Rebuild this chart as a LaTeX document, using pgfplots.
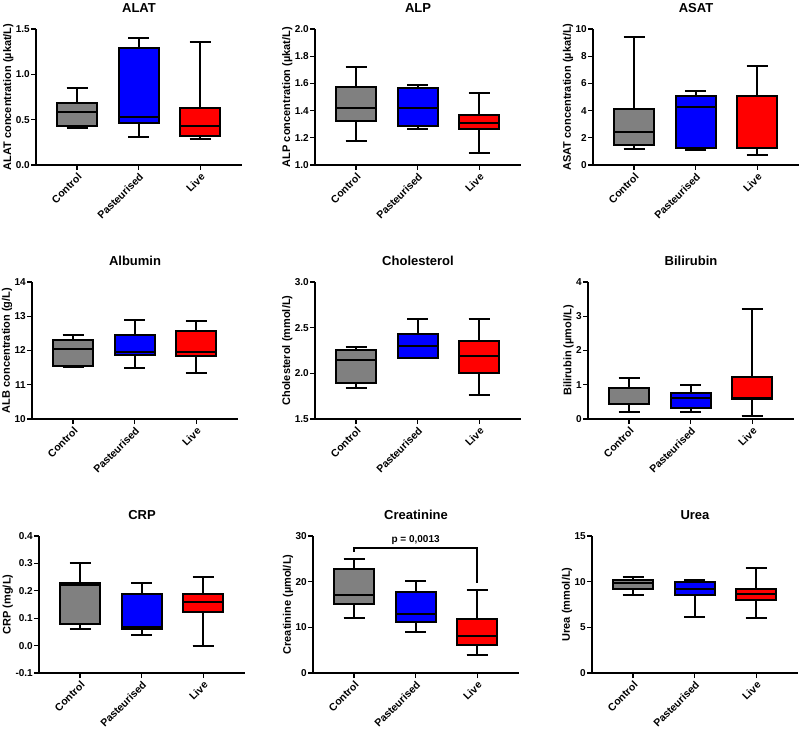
\documentclass[border=0pt]{standalone}
\usepackage{fontspec}
\setmainfont{Liberation Sans}
\usepackage{pgfplots}
\usepgfplotslibrary{statistics}
\pgfplotsset{compat=1.18}
\usepackage{pgfplotstable}

\definecolor{cgray}{RGB}{128,128,128}
\definecolor{cblue}{RGB}{0,0,255}
\definecolor{cred}{RGB}{255,0,0}

% columns: lower whisker, lower quartile, median, upper quartile, upper whisker
\pgfplotstableread{
lw lq med uq uw
0.41 0.43 0.58 0.683 0.853
0.314 0.462 0.528 1.286 1.397
0.288 0.318 0.432 0.632 1.356
}\alat
\pgfplotstableread{
lw lq med uq uw
1.178 1.322 1.42 1.573 1.72
1.268 1.29 1.42 1.566 1.59
1.088 1.266 1.31 1.366 1.529
}\alp
\pgfplotstableread{
lw lq med uq uw
1.2 1.44 2.41 4.15 9.41
1.1 1.27 4.24 5.05 5.44
0.71 1.27 1.27 5.05 7.27
}\asat
\pgfplotstableread{
lw lq med uq uw
11.51 11.56 12.04 12.30 12.46
11.50 11.87 11.96 12.46 12.90
11.34 11.85 11.97 12.56 12.86
}\albumin
\pgfplotstableread{
lw lq med uq uw
1.834 1.892 2.143 2.255 2.285
2.172 2.172 2.30 2.434 2.60
1.758 2.0 2.19 2.35 2.60
}\chol
\pgfplotstableread{
lw lq med uq uw
0.204 0.438 0.9 0.91 1.207
0.204 0.32 0.60 0.76 0.993
0.097 0.584 0.6 1.226 3.20
}\bili
\pgfplotstableread{
lw lq med uq uw
0.06 0.0805 0.223 0.2268 0.30
0.039 0.062 0.068 0.1866 0.23
0.0 0.122 0.16 0.19 0.249
}\crp
\pgfplotstableread{
lw lq med uq uw
12.07 15.2 17.05 22.75 25.0
8.92 11.1 13.0 17.7 20.04
4.02 6.14 8.12 11.78 18.07
}\creat
\pgfplotstableread{
lw lq med uq uw
8.49 9.15 9.8 10.2 10.46
6.11 8.49 9.15 9.95 10.2
6.0 7.98 8.64 9.22 11.49
}\urea

\pgfplotsset{
  panel/.style={
    scale only axis, width=206pt,
    anchor=south west,
    xmin=0.333, xmax=3.68,
    axis x line*=bottom, axis y line*=left,
    axis line style={-, line width=1.3pt},
    xtick={1,2,3}, xticklabels={Control,Pasteurised,Live},
    tick align=outside, major tick length=5pt,
    every tick/.style={black, line width=1.3pt},
    minor tick num=0,
    /pgf/number format/assume math mode=true,
    xticklabel style={font=\bfseries\fontsize{10.5}{12}\selectfont, rotate=45, anchor=north east, inner sep=1.5pt},
    yticklabel style={font=\bfseries\fontsize{10}{12}\selectfont, inner sep=1pt},
    ylabel style={font=\bfseries\fontsize{11}{12}\selectfont, yshift=-2pt},
    title style={font=\bfseries\fontsize{13}{14}\selectfont, at={(0.5,1)}, anchor=south, yshift=7pt},
    clip=false,
    boxplot/draw direction=y,
  },
  fix1/.style={yticklabel style={/pgf/number format/.cd, fixed, fixed zerofill, precision=1}},
}

% #1 table, #2 row, #3 position, #4 colour
\newcommand{\onebox}[4]{%
  \pgfplotstablegetelem{#2}{lw}\of#1\let\vlw\pgfplotsretval
  \pgfplotstablegetelem{#2}{lq}\of#1\let\vlq\pgfplotsretval
  \pgfplotstablegetelem{#2}{med}\of#1\let\vmed\pgfplotsretval
  \pgfplotstablegetelem{#2}{uq}\of#1\let\vuq\pgfplotsretval
  \pgfplotstablegetelem{#2}{uw}\of#1\let\vuw\pgfplotsretval
  \edef\doplot{\noexpand\addplot[boxplot prepared={draw direction=y, draw position=#3, box extend=0.65, whisker extend=0.34, lower whisker=\vlw, lower quartile=\vlq, median=\vmed, upper quartile=\vuq, upper whisker=\vuw}, fill=#4, draw=black, line width=2pt] coordinates {};}%
  \doplot
}
\newcommand{\threeboxes}[1]{%
  \onebox{#1}{0}{1}{cgray}
  \onebox{#1}{1}{2}{cblue}
  \onebox{#1}{2}{3}{cred}
}

\begin{document}
\begin{tikzpicture}
\path[use as bounding box] (0pt,0pt) rectangle (800pt,729pt);

% ---------- row 1 ----------
\begin{axis}[panel, fix1, at={(36pt,564pt)}, height=136pt,
  ymin=0, ymax=1.5, ytick={0,0.5,1.0,1.5},
  title={ALAT}, ylabel={ALAT concentration (µkat/L)}]
\threeboxes{\alat}
\end{axis}

\begin{axis}[panel, fix1, at={(315pt,564pt)}, height=136pt,
  ymin=1.0, ymax=2.0, ytick={1.0,1.2,1.4,1.6,1.8,2.0},
  title={ALP}, ylabel={ALP concentration (µkat/L)}]
\threeboxes{\alp}
\end{axis}

\begin{axis}[panel, at={(593pt,564pt)}, height=136pt,
  ymin=0, ymax=10, ytick={0,2,4,6,8,10},
  title={ASAT}, ylabel={ASAT concentration (µkat/L)}]
\threeboxes{\asat}
\end{axis}

% ---------- row 2 ----------
\begin{axis}[panel, at={(32pt,310pt)}, height=137pt,
  ymin=10, ymax=14, ytick={10,11,12,13,14},
  title={Albumin}, ylabel={ALB concentration (g/L)}]
\threeboxes{\albumin}
\end{axis}

\begin{axis}[panel, fix1, at={(315pt,310pt)}, height=137pt,
  ymin=1.5, ymax=3.0, ytick={1.5,2.0,2.5,3.0},
  title={Cholesterol}, ylabel={Cholesterol (mmol/L)}]
\threeboxes{\chol}
\end{axis}

\begin{axis}[panel, at={(588pt,310pt)}, height=137pt,
  ymin=0, ymax=4, ytick={0,1,2,3,4},
  title={Bilirubin}, ylabel={Bilirubin (µmol/L)}]
\threeboxes{\bili}
\end{axis}

% ---------- row 3 ----------
\begin{axis}[panel, fix1, at={(39pt,56pt)}, height=137pt,
  ymin=-0.1, ymax=0.4, ytick={-0.1,0,0.1,0.2,0.3,0.4},
  title={CRP}, ylabel={CRP (mg/L)}]
\threeboxes{\crp}
\end{axis}

\begin{axis}[panel, at={(313pt,56pt)}, height=137pt,
  ymin=0, ymax=30, ytick={0,10,20,30},
  title={Creatinine}, ylabel={Creatinine (µmol/L)}]
\threeboxes{\creat}
\addplot[black, line width=1.5pt, mark=none] coordinates {(1,26.6) (1,27.4) (3,27.4) (3,19.6)};
\node[font=\bfseries\fontsize{10}{12}\selectfont] at (axis cs:2,29.2) {p = 0,0013};
\end{axis}

\begin{axis}[panel, at={(592pt,56pt)}, height=137pt,
  ymin=0, ymax=15, ytick={0,5,10,15},
  title={Urea}, ylabel={Urea (mmol/L)}]
\threeboxes{\urea}
\end{axis}
\end{tikzpicture}
\end{document}
